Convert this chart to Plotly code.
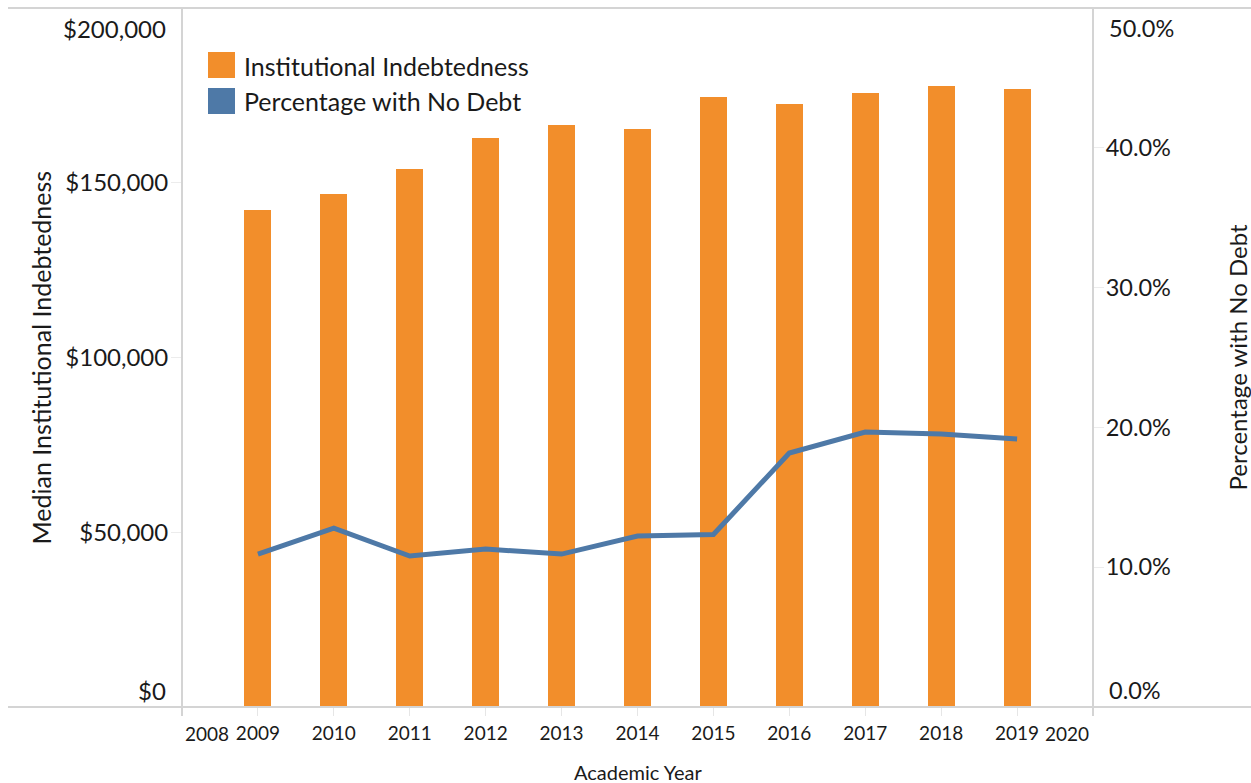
import plotly.graph_objects as go

# ---- data ----
years = [2009, 2010, 2011, 2012, 2013, 2014, 2015, 2016, 2017, 2018, 2019]
indebtedness = [142200, 146800, 153900, 162800, 166500, 165400, 174500, 172500, 175700, 177700, 176800]
pct_no_debt = [0.1094, 0.1280, 0.1080, 0.1130, 0.1094, 0.1223, 0.1234, 0.1817, 0.1967, 0.1953, 0.1917]
left_ticks = [50000, 100000, 150000]
left_ticktext = ["$50,000", "$100,000", "$150,000"]
right_ticks = [0.1, 0.2, 0.3, 0.4]

ORANGE = "#F28E2B"
BLUE = "#4E79A7"
GRID = "#d4d4d4"
FONT = "Lato"
TXT = "#1a1a1a"

W, H = 1251, 783
L, R, T, B = 182, 1093, 8, 707  # pixel positions of the plot area
PW, PH = R - L, B - T


def px(xp):
    return (xp - L) / PW


def py(yp):
    return (B - yp) / PH


fig = go.Figure()
fig.add_trace(go.Bar(x=years, y=indebtedness, width=0.355, marker_color=ORANGE,
                     marker_line_width=0, name="Institutional Indebtedness", showlegend=False))
fig.add_trace(go.Scatter(x=years, y=pct_no_debt, mode="lines", yaxis="y2",
                         line=dict(color=BLUE, width=5), name="Percentage with No Debt",
                         showlegend=False))

shapes = [
    dict(type="line", xref="paper", yref="paper", x0=px(8), x1=px(1251), y0=1, y1=1,
         line=dict(color=GRID, width=2)),
    dict(type="line", xref="paper", yref="paper", x0=px(8), x1=px(1251), y0=0, y1=0,
         line=dict(color=GRID, width=2)),
    dict(type="line", xref="paper", yref="paper", x0=0, x1=0, y0=py(716), y1=1,
         line=dict(color=GRID, width=2)),
    dict(type="line", xref="paper", yref="paper", x0=1, x1=1, y0=py(716), y1=1,
         line=dict(color=GRID, width=2)),
    # legend swatches
    dict(type="rect", xref="paper", yref="paper", x0=px(208), x1=px(235), y0=py(78), y1=py(52),
         fillcolor=ORANGE, line_width=0),
    dict(type="rect", xref="paper", yref="paper", x0=px(208), x1=px(235), y0=py(114), y1=py(88),
         fillcolor=BLUE, line_width=0),
]

big = dict(family=FONT, size=25, color=TXT)
lfont = dict(family=FONT, size=24, color=TXT)
rfont = dict(family=FONT, size=23.5, color=TXT)
xfont = dict(family=FONT, size=19, color=TXT)
annotations = [
    dict(text="Institutional Indebtedness", xref="paper", yref="paper", x=px(242), y=py(66),
         xanchor="left", yanchor="middle", showarrow=False, font=big),
    dict(text="Percentage with No Debt", xref="paper", yref="paper", x=px(242), y=py(101),
         xanchor="left", yanchor="middle", showarrow=False, font=big),
    dict(text="Median Institutional Indebtedness", xref="paper", yref="paper", x=px(40), y=0.5,
         textangle=-90, xanchor="center", yanchor="middle", showarrow=False, font=big),
    dict(text="Percentage with No Debt", xref="paper", yref="paper", x=px(1237), y=0.5,
         textangle=-90, xanchor="center", yanchor="middle", showarrow=False,
         font=dict(family=FONT, size=24, color=TXT)),
    dict(text="Academic Year", xref="paper", yref="paper", x=0.5, y=py(772),
         xanchor="center", yanchor="middle", showarrow=False,
         font=dict(family=FONT, size=20, color=TXT)),
    # end labels shifted inward (as in the reference)
    dict(text="$0", xref="paper", yref="y", x=px(168), y=0, yshift=17,
         xanchor="right", yanchor="middle", showarrow=False, font=lfont),
    dict(text="$200,000", xref="paper", yref="y", x=px(168), y=200000, yshift=-20,
         xanchor="right", yanchor="middle", showarrow=False, font=lfont),
    dict(text="0.0%", xref="paper", yref="y2", x=px(1107), y=0, yshift=17,
         xanchor="left", yanchor="middle", showarrow=False, font=rfont),
    dict(text="50.0%", xref="paper", yref="y2", x=px(1107), y=0.5, yshift=-20,
         xanchor="left", yanchor="middle", showarrow=False, font=rfont),
    dict(text="2008", xref="x", yref="paper", x=2008, xshift=25, y=py(733),
         xanchor="center", yanchor="middle", showarrow=False, font=xfont),
    dict(text="2020", xref="x", yref="paper", x=2020, xshift=-26, y=py(733),
         xanchor="center", yanchor="middle", showarrow=False, font=xfont),
]

fig.update_layout(
    width=W, height=H,
    margin=dict(l=L, r=W - R, t=T, b=H - B, pad=0),
    plot_bgcolor="white", paper_bgcolor="white",
    font=dict(family=FONT, color=TXT),
    showlegend=False,
    bargap=0,
    xaxis=dict(range=[2008, 2020], tickvals=years, ticktext=[str(y) for y in years],
               ticks="outside", ticklen=8, tickcolor="#e6e6e6", tickwidth=1,
               showline=False, showgrid=False, zeroline=False,
               tickfont=xfont, ticklabelstandoff=1),
    yaxis=dict(range=[0, 200000], tickvals=left_ticks, ticktext=left_ticktext,
               ticks="outside", ticklen=10, tickcolor="#ececec",
               showline=False, showgrid=False, zeroline=False,
               tickfont=lfont, ticklabelstandoff=-2),
    yaxis2=dict(range=[0, 0.5], tickvals=right_ticks, tickformat=".1%",
                overlaying="y", side="right",
                ticks="outside", ticklen=10, tickcolor="#ececec",
                showline=False, showgrid=False, zeroline=False,
                tickfont=rfont, ticklabelstandoff=-3),
    shapes=shapes,
    annotations=annotations,
)

fig.write_html(
    "out.html",
    config={"displayModeBar": False},
    post_script="document.body.style.margin='0';document.body.style.overflow='hidden';",
)
